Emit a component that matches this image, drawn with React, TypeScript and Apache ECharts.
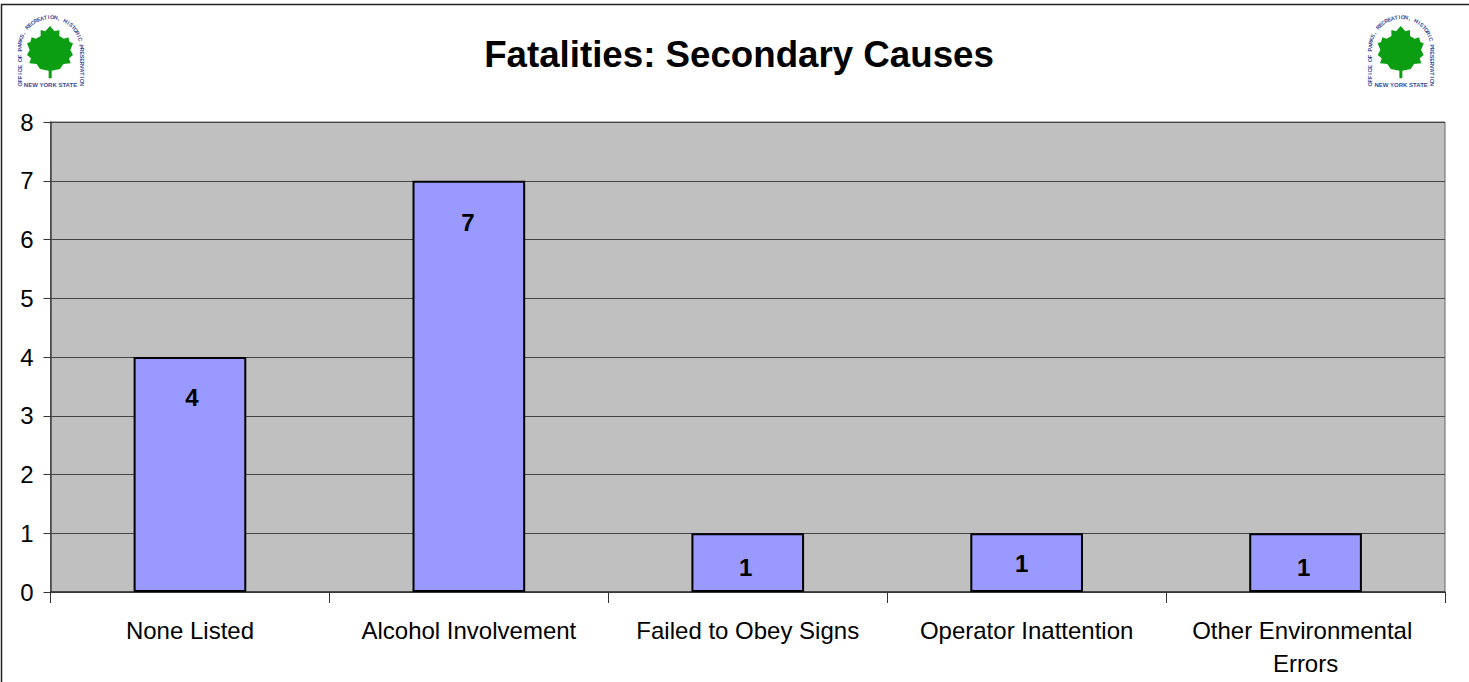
import React, { useEffect, useRef } from "react";
import * as echarts from "echarts";

const chartTitle = "Fatalities: Secondary Causes";
const categories = ["None Listed", "Alcohol Involvement", "Failed to Obey Signs", "Operator Inattention", "Other Environmental Errors"];
const fatalities = [4, 7, 1, 1, 1];
const yTicks = { min: 0, max: 8, interval: 1 };
const arcText = "OFFICE OF PARKS, RECREATION, HISTORIC PRESERVATION";
const stateText = "NEW YORK STATE";

// label nudges so each value sits where the reference puts it
const labelOffsets = [[2, 28], [-1, 30], [-2, 22], [-5, 18], [-2, 22]];
const FONT = '"Liberation Sans", Arial, sans-serif';

const leaf = [[150,78],[164,94],[178,90],[178,108],[192,116],[205,112],[209,126],[219,130],[211,150],[219,165],[207,175],[212,190],[190,192],[180,207],[155,212],[155,235],[146,235],[146,212],[120,207],[110,192],[88,190],[93,175],[81,165],[89,150],[81,130],[91,126],[95,112],[108,116],[122,108],[122,90],[136,94]];

function logo(dx: number, dy: number): any {
  const cx = 50.5 + dx, cy = 48 + dy, R = 31, post = 38;
  const children: any[] = [
    { type: "polygon", silent: true, shape: { points: leaf.map(([x, y]) => [x / 3 + dx, y / 3 + dy]) }, style: { fill: "#0B9E12" } },
  ];
  const n = arcText.length;
  const total = 2 * post + Math.PI * R;
  arcText.split("").forEach((ch, i) => {
    // the lettering runs up the left post, over the arch and down the right post
    const s = ((i + 0.5) / n) * total;
    let x: number, y: number, rot: number;
    if (s < post) { x = cx - R; y = cy + post - s; rot = Math.PI / 2; }
    else if (s < post + Math.PI * R) {
      const a = Math.PI - (s - post) / R;
      x = cx + R * Math.cos(a); y = cy - R * Math.sin(a); rot = a - Math.PI / 2;
    } else { x = cx + R; y = cy + (s - post - Math.PI * R); rot = -Math.PI / 2; }
    children.push({ type: "text", silent: true, x, y, rotation: rot,
      style: { text: ch, fill: "#3A4A96", font: `bold 5.5px ${FONT}`, align: "center", verticalAlign: "middle" } });
  });
  children.push({ type: "text", silent: true, x: 50.5 + dx, y: 85 + dy,
    style: { text: stateText, fill: "#3A4A96", font: `bold 6px ${FONT}`, align: "center", verticalAlign: "middle" } });
  return { type: "group", children };
}

export default function App() {
  const ref = useRef<HTMLDivElement>(null);
  useEffect(() => {
    document.body.style.margin = "0";
    const chart = echarts.init(ref.current!, null, { renderer: "svg" });
    chart.setOption({
      animation: false,
      backgroundColor: "#FFFFFF",
      title: {
        text: chartTitle, left: 734, top: 31, textAlign: "center",
        textStyle: { fontFamily: FONT, fontSize: 36.7, fontWeight: "bold", color: "#000" },
      },
      grid: { left: 50.5, right: 24, top: 122, bottom: 90, show: true, backgroundColor: "#C0C0C0", borderColor: "#666", borderWidth: 1 },
      xAxis: {
        type: "category", data: categories,
        axisLine: { show: true, lineStyle: { color: "#333", width: 1.5 } },
        axisTick: { show: true, alignWithLabel: false, length: 11, lineStyle: { color: "#333", width: 1 } },
        axisLabel: { interval: 0, margin: 22, fontFamily: FONT, fontSize: 24, color: "#000", lineHeight: 33, width: 270, overflow: "break" },
      },
      yAxis: {
        type: "value", ...yTicks,
        axisLine: { show: true, lineStyle: { color: "#444", width: 1.5 } },
        axisTick: { show: true, length: 7, lineStyle: { color: "#333", width: 1 } },
        axisLabel: { margin: 17, fontFamily: FONT, fontSize: 24, color: "#000" },
        splitLine: { show: true, lineStyle: { color: "#444", width: 1 } },
      },
      series: [{
        type: "bar", barWidth: "40.4%",
        data: fatalities.map((value, i) => ({
          value,
          label: { offset: labelOffsets[i] },
        })),
        itemStyle: { color: "#9999FF", borderColor: "#000", borderWidth: 2 },
        label: { show: true, position: "insideTop", distance: 0, fontFamily: FONT, fontSize: 24, fontWeight: "bold", color: "#000" },
      }],
      graphic: [
        { type: "line", silent: true, shape: { x1: 1, y1: 4.5, x2: 1469, y2: 4.5 }, style: { stroke: "#222", lineWidth: 1.5 } },
        { type: "line", silent: true, shape: { x1: 1.5, y1: 4, x2: 1.5, y2: 682 }, style: { stroke: "#222", lineWidth: 1.5 } },
        logo(0, 0),
        logo(1350.7, 0),
      ],
    });
    return () => chart.dispose();
  }, []);
  return <div ref={ref} style={{ width: 1469, height: 682, position: "absolute", left: 0, top: 0 }} />;
}
